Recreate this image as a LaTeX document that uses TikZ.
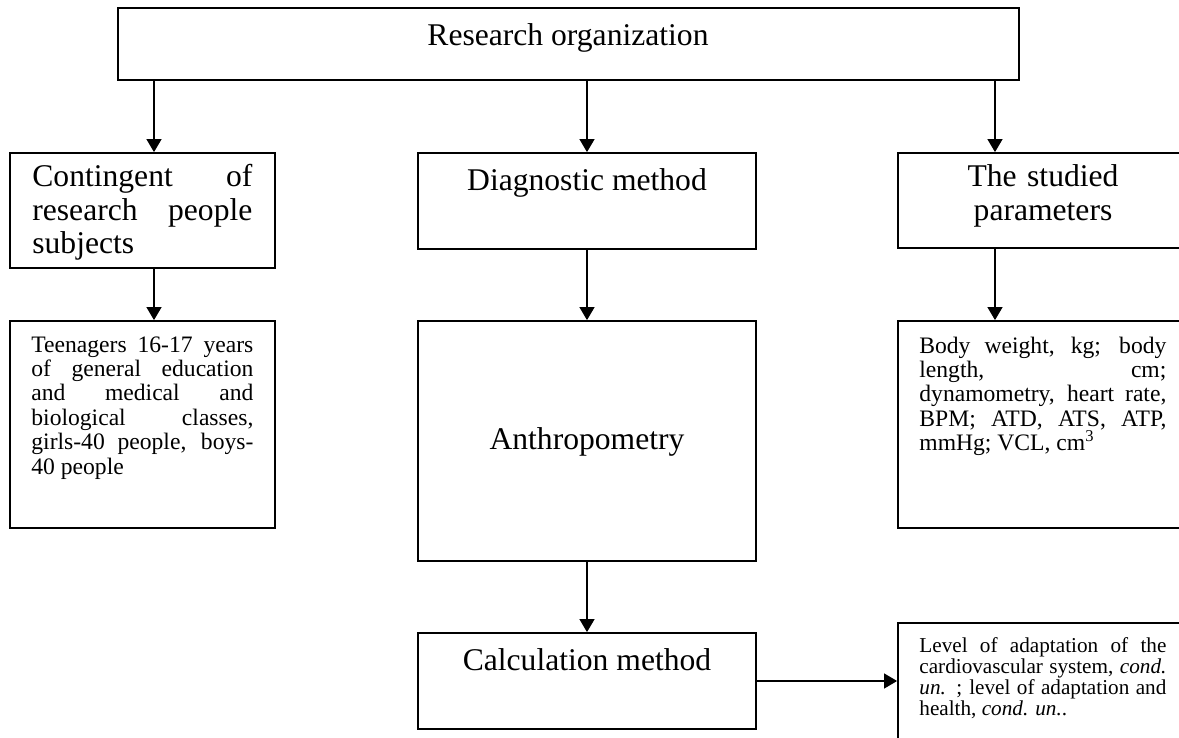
\documentclass[tikz,border=0pt]{standalone}
\usepackage{fontspec}
\setmainfont{Liberation Serif}
\usepackage{tikz}
\usetikzlibrary{arrows.meta,fit}

\begin{document}
\begin{tikzpicture}[x=0.5pt,y=-0.5pt,
    box/.style={draw, line width=0.9pt, inner sep=0pt},
    arr/.style={line width=0.6pt, -{Triangle[length=6.5pt,width=7.5pt]}},
    bigtext/.style={inner sep=0pt, font=\fontsize{15.8}{16.6}\selectfont},
    smalltext/.style={inner sep=0pt, anchor=base west, align=justify,
      font=\fontsize{11.8}{12.2}\selectfont,
      execute at begin node={\tolerance=10000\hyphenpenalty=10000}},
    tinytext/.style={smalltext, font=\fontsize{10.6}{9.6}\selectfont}]

  \useasboundingbox (0,0) rectangle (1179,738);
  \clip (0,0) rectangle (1179,738);

  % boxes
  \node[box, fit={(118,8) (1019,80)}] (org) {};
  \node[box, fit={(10,153) (275,268)}] (cont) {};
  \node[box, fit={(418,153) (756,249)}] (diag) {};
  \node[box, fit={(898,153) (1190,248)}] (param) {};
  \node[box, fit={(10,321) (275,528)}] (teen) {};
  \node[box, fit={(418,321) (756,561)}] (anthro) {};
  \node[box, fit={(898,321) (1190,528)}] (values) {};
  \node[box, fit={(418,633) (756,729)}] (calc) {};
  \node[box, fit={(898,623) (1190,760)}] (level) {};

  % texts
  \node[bigtext, anchor=base] (orgtext) at (568,46) {Research organization};
  \node[bigtext, anchor=base west, text width=110pt, align=justify,
    execute at begin node={\tolerance=10000\hyphenpenalty=10000}] (conttext) at (32,187)
    {Contingent of\linebreak research people\linebreak subjects};
  \node[bigtext, anchor=base] (diagtext) at (587,191) {Diagnostic method};
  \node[bigtext, anchor=base, text width=140pt, align=center] (paramtext) at (1043,187)
    {The studied\\parameters};
  \node[bigtext, anchor=base] (anthrotext) at (587,449) {Anthropometry};
  \node[bigtext, anchor=base] (calctext) at (587,670) {Calculation method};

  \node[smalltext, text width=111pt] (teentext) at (31,352)
    {Teenagers 16-17 years\linebreak of general education\linebreak and medical and\linebreak
     biological classes,\linebreak girls-40 people, boys-\linebreak 40 people};
  \node[smalltext, text width=123.5pt] (valuestext) at (919,353)
    {Body weight, kg; body\linebreak length, cm;\linebreak dynamometry, heart rate,\linebreak
     BPM; ATD, ATS, ATP,\linebreak mmHg; VCL, cm\textsuperscript{3}};
  \node[tinytext, text width=123.5pt] (leveltext) at (919,652)
    {Level of adaptation of the\linebreak cardiovascular system, \textit{cond.}\linebreak
     \textit{un.} ; level of adaptation and\linebreak health, \textit{cond. un.}.};

  % connectors
  \coordinate (lcol) at (154,0);
  \coordinate (rcol) at (995,0);
  \draw[arr] (org.south -| lcol) -- (cont.north -| lcol);
  \draw[arr] (org.south -| diag.north) -- (diag.north);
  \draw[arr] (org.south -| rcol) -- (param.north -| rcol);
  \draw[arr] (cont.south -| lcol) -- (teen.north -| lcol);
  \draw[arr] (diag.south) -- (anthro.north);
  \draw[arr] (param.south -| rcol) -- (values.north -| rcol);
  \draw[arr] (anthro.south) -- (calc.north);
  \draw[arr] (calc.east) -- (calc.east -| level.west);
\end{tikzpicture}
\end{document}
